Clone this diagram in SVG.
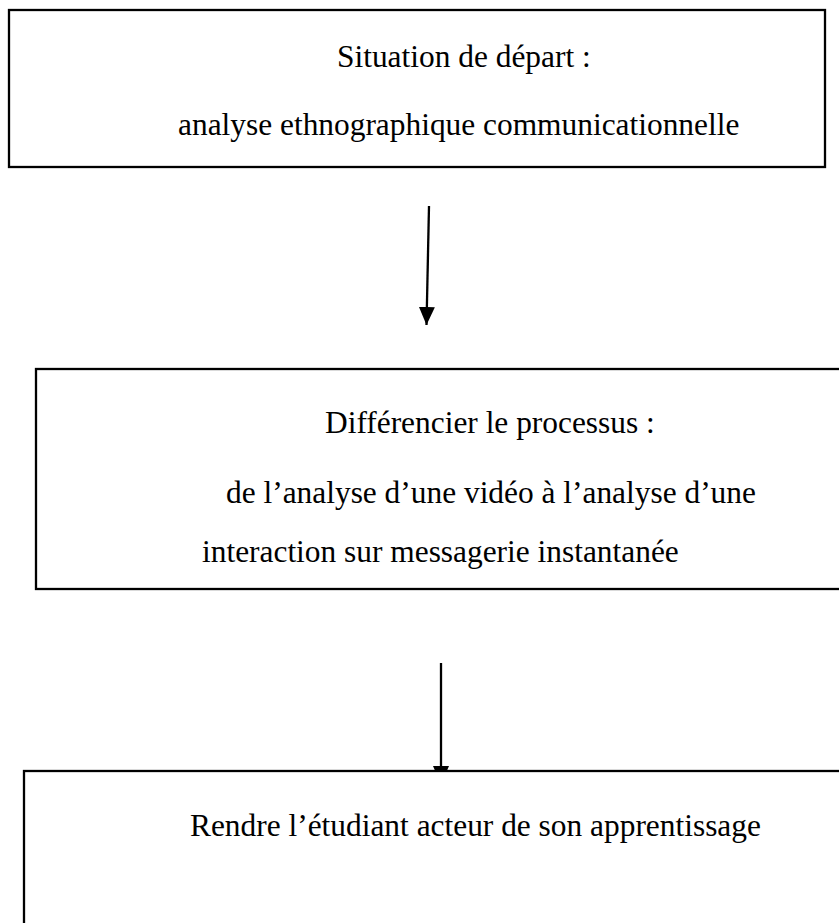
<svg xmlns="http://www.w3.org/2000/svg" width="839" height="923" viewBox="0 0 839 923">
<style>
  .box { fill: #ffffff; stroke: #000000; stroke-width: 2.3; }
  .lbl { font-family: "Liberation Serif", "Times New Roman", serif; font-size: 31.4px; fill: #000000; }
  .conn { stroke: #000000; stroke-width: 2.3; fill: none; }
</style>
<defs>
  <marker id="arrow" markerUnits="userSpaceOnUse" viewBox="0 0 18 16" markerWidth="18" markerHeight="16" refX="18" refY="8" orient="auto">
    <path d="M0,0 L18,8 L0,16 z" fill="#000000"/>
  </marker>
</defs>
<rect x="0" y="0" width="839" height="923" fill="#ffffff"/>
<g id="node-depart">
  <rect class="box" x="9" y="10" width="816" height="157"/>
  <text class="lbl" x="337" y="67">Situation de départ :</text>
  <text class="lbl" x="178" y="135">analyse ethnographique communicationnelle</text>
</g>
<g id="connectors">
  <line class="conn" x1="429" y1="206" x2="426.5" y2="325" marker-end="url(#arrow)"/>
  <line class="conn" x1="441" y1="663" x2="441" y2="784" marker-end="url(#arrow)"/>
</g>
<g id="node-differencier">
  <rect class="box" x="36" y="369" width="840" height="220"/>
  <text class="lbl" x="325" y="433">Différencier le processus :</text>
  <text class="lbl" x="226" y="503">de l’analyse d’une vidéo à l’analyse d’une</text>
  <text class="lbl" x="202" y="562">interaction sur messagerie instantanée</text>
</g>
<g id="node-rendre">
  <rect class="box" x="24" y="771" width="860" height="200"/>
  <text class="lbl" x="190" y="836">Rendre l’étudiant acteur de son apprentissage</text>
</g>
</svg>
